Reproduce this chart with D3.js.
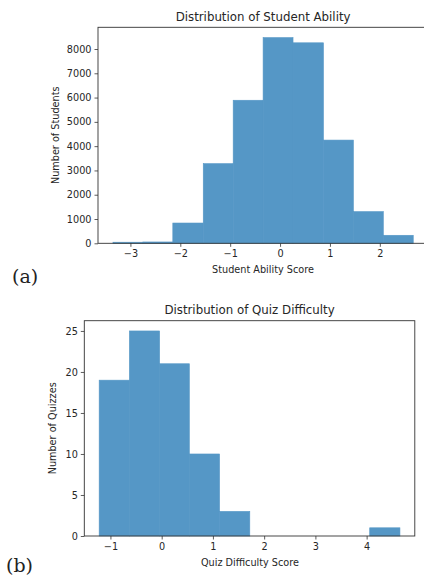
<!DOCTYPE html>
<html>
<head>
<meta charset="utf-8">
<script src="https://cdnjs.cloudflare.com/ajax/libs/d3/7.8.5/d3.min.js"></script>
<style>
  body { margin: 0; background: #fff; }
  svg { display: block; }
  .tick text { font-family: "DejaVu Sans", sans-serif; font-size: 9.7px; fill: #262626; }
  .tick line { stroke: #333; stroke-width: 0.8; }
  .domain { display: none; }
  .frame { fill: none; stroke: #333; stroke-width: 0.9; }
  .title { font-family: "DejaVu Sans", sans-serif; font-size: 11.8px; fill: #262626; }
  .label { font-family: "DejaVu Sans", sans-serif; font-size: 9.7px; fill: #262626; }
  .panel { font-family: "DejaVu Serif", "Liberation Serif", serif; font-size: 19px; fill: #222; }
</style>
</head>
<body>
<svg id="chart" width="424" height="578"></svg>
<script>
// (a) student ability histogram
var abilityEdges = [-3.35, -2.75, -2.15, -1.54, -0.94, -0.34, 0.26, 0.87, 1.47, 2.07, 2.67];
var abilityCounts = [45, 55, 835, 3280, 5890, 8470, 8255, 4250, 1305, 330];
var abilityTicksX = [-3, -2, -1, 0, 1, 2];
var abilityTicksY = [0, 1000, 2000, 3000, 4000, 5000, 6000, 7000, 8000];

// (b) quiz difficulty histogram
var quizEdges = [-1.22, -0.63, -0.04, 0.54, 1.13, 1.72, 2.30, 2.89, 3.48, 4.06, 4.65];
var quizCounts = [19, 25, 21, 10, 3, 0, 0, 0, 0, 1];
var quizTicksX = [-1, 0, 1, 2, 3, 4];
var quizTicksY = [0, 5, 10, 15, 20, 25];

var barColor = '#5597c6';
var svg = d3.select('#chart');

svg.append('rect').attr('width', 424).attr('height', 578).attr('fill', '#fff');

function histogram(opt) {
  var g = svg.append('g');

  var xScale = d3.scaleLinear()
    .domain(opt.xDomain)
    .range([opt.left, opt.right]);

  var yScale = d3.scaleLinear()
    .domain([0, d3.max(opt.counts) * 1.05])
    .range([opt.bottom, opt.top]);

  var bins = opt.counts.map((c, i) => ({x0: opt.edges[i], x1: opt.edges[i + 1], n: c}));

  g.selectAll('rect.bar')
    .data(bins.filter((d) => d.n > 0))
    .enter()
    .append('rect')
    .attr('class', 'bar')
    .attr('x', (d) => xScale(d.x0))
    .attr('y', (d) => yScale(d.n))
    .attr('width', (d) => xScale(d.x1) - xScale(d.x0))
    .attr('height', (d) => yScale(0) - yScale(d.n))
    .attr('fill', barColor)
    .attr('stroke', barColor)
    .attr('stroke-width', 0.6);

  g.append('rect')
    .attr('class', 'frame')
    .attr('x', opt.left)
    .attr('y', opt.top)
    .attr('width', opt.right - opt.left)
    .attr('height', opt.bottom - opt.top);

  g.append('g')
    .attr('transform', `translate(0, ${opt.bottom})`)
    .call(d3.axisBottom(xScale)
      .tickValues(opt.ticksX)
      .tickFormat(d3.format('d'))
      .tickSize(3.5)
      .tickSizeOuter(0)
      .tickPadding(3))
    .selectAll('text').attr('dy', '0.75em');

  g.append('g')
    .attr('transform', `translate(${opt.left}, 0)`)
    .call(d3.axisLeft(yScale)
      .tickValues(opt.ticksY)
      .tickFormat(d3.format('d'))
      .tickSize(3.5)
      .tickSizeOuter(0)
      .tickPadding(3));

  var cx = (opt.left + opt.right) / 2;

  g.append('text')
    .attr('class', 'title')
    .attr('x', cx)
    .attr('y', opt.top - 6.5)
    .attr('text-anchor', 'middle')
    .text(opt.title);

  g.append('text')
    .attr('class', 'label')
    .attr('x', opt.xLabelX)
    .attr('y', opt.bottom + 30)
    .attr('text-anchor', 'middle')
    .text(opt.xLabel);

  g.append('text')
    .attr('class', 'label')
    .attr('transform', `translate(${opt.yLabelX}, ${(opt.top + opt.bottom) / 2}) rotate(-90)`)
    .attr('text-anchor', 'middle')
    .attr('dy', '0.35em')
    .text(opt.yLabel);

  g.append('text')
    .attr('class', 'panel')
    .attr('x', opt.panelX)
    .attr('y', opt.panelY)
    .text(opt.panel);
}

histogram({
  edges: abilityEdges, counts: abilityCounts,
  ticksX: abilityTicksX, ticksY: abilityTicksY,
  xDomain: [-3.65, 2.97],
  left: 98, right: 428.2, top: 27.3, bottom: 243.3,
  title: 'Distribution of Student Ability',
  xLabel: 'Student Ability Score', xLabelX: 263,
  yLabel: 'Number of Students', yLabelX: 56,
  panel: '(a)', panelX: 12, panelY: 283
});

histogram({
  edges: quizEdges, counts: quizCounts,
  ticksX: quizTicksX, ticksY: quizTicksY,
  xDomain: [-1.51, 4.94],
  left: 84.3, right: 414.8, top: 320.7, bottom: 536,
  title: 'Distribution of Quiz Difficulty',
  xLabel: 'Quiz Difficulty Score', xLabelX: 250,
  yLabel: 'Number of Quizzes', yLabelX: 53,
  panel: '(b)', panelX: 6, panelY: 572
});
</script>
</body>
</html>
